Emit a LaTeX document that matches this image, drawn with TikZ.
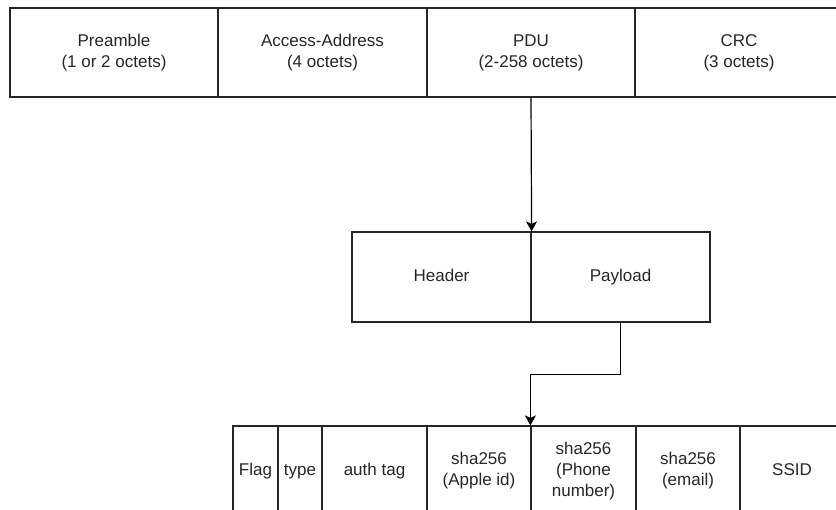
\documentclass[tikz,border=0pt]{standalone}
\usepackage{fontspec}
\setmainfont{Liberation Sans}
\usetikzlibrary{arrows.meta}
\begin{document}
\begin{tikzpicture}[x=1pt,y=1pt,
  cell/.style={draw=black!85, line width=1.2pt, inner sep=0pt, align=center,
    font=\fontsize{17}{21}\selectfont, text=black!85},
  one/.style={text height=12.5pt, text depth=3.5pt},
  toprow/.style={cell, minimum height=89pt},
  midrow/.style={cell, one, minimum height=90pt},
  botrow/.style={cell, minimum height=90pt},
  arr/.style={draw=black, line width=1.2pt, -{Stealth[width=11pt,length=10pt,inset=2.5pt]}}]
\useasboundingbox (0,0) rectangle (836,-510);
\clip (0,0) rectangle (836,-510);
% top row
\node[toprow, minimum width=208pt] (pre) at (114,-52.5) {Preamble\\(1 or 2 octets)};
\node[toprow, minimum width=209pt] (acc) at (322.5,-52.5) {Access-Address\\(4 octets)};
\node[toprow, minimum width=208pt] (pdu) at (531,-52.5) {PDU\\(2-258 octets)};
\node[toprow, minimum width=208pt] (crc) at (739,-52.5) {CRC\\(3 octets)};
% middle row
\node[midrow, minimum width=179pt] (hdr) at (441.5,-277) {Header};
\node[midrow, minimum width=179pt] (pay) at (620.5,-277) {Payload};
% bottom row
\node[botrow, one, minimum width=45pt] (flag) at (255.5,-471) {Flag};
\node[botrow, one, minimum width=44pt] (type) at (300,-471) {type};
\node[botrow, one, minimum width=105pt] (auth) at (374.5,-471) {auth tag};
\node[botrow, minimum width=104pt] (apple) at (479,-471) {sha256\\(Apple id)};
\node[botrow, minimum width=105pt] (phone) at (583.5,-471) {sha256\\(Phone\\number)};
\node[botrow, minimum width=104pt] (email) at (688,-471) {sha256\\(email)};
\node[botrow, one, minimum width=104pt] (ssid) at (792,-471) {SSID};
% connectors
\draw[arr] (pdu.south) -- (hdr.north east);
\draw[arr] (pay.south) -- ++(0,-52) -| (phone.north west);
\end{tikzpicture}
\end{document}
